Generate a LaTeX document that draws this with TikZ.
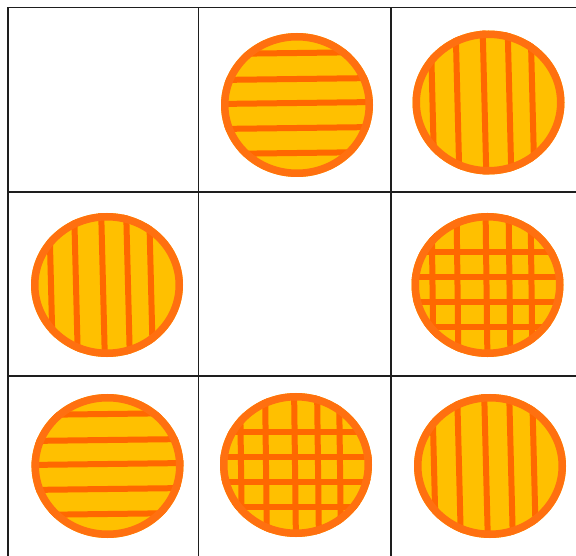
\documentclass[tikz,border=0pt]{standalone}
\definecolor{discfill}{RGB}{255,192,0}
\definecolor{discrim}{RGB}{255,112,16}
\definecolor{stripecol}{RGB}{255,104,0}
\definecolor{gridcol}{RGB}{30,30,30}
\tikzset{
  discbody/.style={fill=discfill},
  discrimline/.style={draw=discrim, line width=7.5pt},
  stripeline/.style={draw=stripecol, line width=6pt},
  gridline/.style={draw=gridcol, line width=1.9pt},
}
\newcommand\discstart[2]{%
  \fill[discbody] (#1,#2) ellipse [x radius=76pt, y radius=72pt];
  \begin{scope}
  \clip (#1,#2) ellipse [x radius=76pt, y radius=72pt];
}
\newcommand\discend[2]{%
  \end{scope}
  \draw[discrimline] (#1,#2) ellipse [x radius=72.25pt, y radius=68.25pt];
}
\newcommand\hstripes[2]{%
  \foreach \d in {-52,-26,-2,23,48}
    \draw[stripeline] ($(#1,#2)+(-80,\d+1)$) -- ($(#1,#2)+(80,\d-1)$);
}
\newcommand\vstripes[2]{%
  \foreach \d in {-56,-31,-4,21,44}
    \draw[stripeline] ($(#1,#2)+(\d-2,-80)$) -- ($(#1,#2)+(\d+2,80)$);
}
\newcommand\gstripes[2]{%
  \foreach \d in {-55,-30,-1,22,44}
    \draw[stripeline] ($(#1,#2)+(\d-1,-80)$) -- ($(#1,#2)+(\d+1,80)$);
  \foreach \d in {-33,-8,17,42}
    \draw[stripeline] ($(#1,#2)+(-80,\d)$) -- ($(#1,#2)+(80,\d)$);
}
\usetikzlibrary{calc}
\begin{document}
\begin{tikzpicture}[x=1pt,y=-1pt]
\useasboundingbox (0,0) rectangle (576,556);
\fill[white] (0,0) rectangle (576,556);
% grid
\coordinate (v0t) at (8,7.5);   \coordinate (v0b) at (8,560);
\coordinate (v1t) at (198.5,7.5); \coordinate (v1b) at (198.5,560);
\coordinate (v2t) at (391,7.5); \coordinate (v2b) at (391,560);
\coordinate (h0l) at (8,7.5);   \coordinate (h0r) at (580,7.5);
\coordinate (h1l) at (8,192);   \coordinate (h1r) at (580,192);
\coordinate (h2l) at (8,376);   \coordinate (h2r) at (580,376);
\draw[gridline] (v0t) -- (v0b);
\draw[gridline] (v1t) -- (v1b);
\draw[gridline] (v2t) -- (v2b);
\draw[gridline] (h0l) -- (h0r);
\draw[gridline] (h1l) -- (h1r);
\draw[gridline] (h2l) -- (h2r);
% discs
\discstart{297}{105}\hstripes{297}{105}\discend{297}{105}
\discstart{488.5}{102.5}\vstripes{488.5}{102.5}\discend{488.5}{102.5}
\discstart{107}{285}\vstripes{107}{285}\discend{107}{285}
\discstart{487.5}{285}\gstripes{487.5}{285}\discend{487.5}{285}
\discstart{107.5}{466}\hstripes{107.5}{466}\discend{107.5}{466}
\discstart{296}{465}\gstripes{296}{465}\discend{296}{465}
\discstart{490}{466}\vstripes{490}{466}\discend{490}{466}
\end{tikzpicture}
\end{document}
